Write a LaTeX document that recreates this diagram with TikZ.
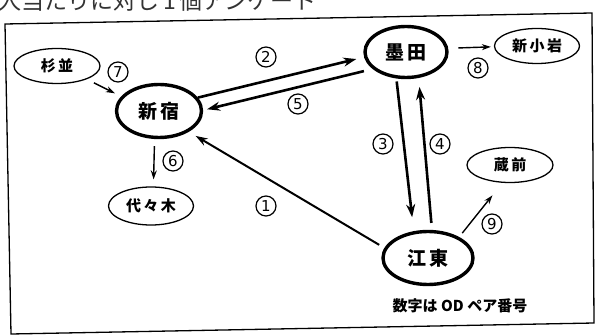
\documentclass[tikz,border=0pt]{standalone}
\usepackage{fontspec}
\setmainfont{Noto Sans CJK JP}
\newfontfamily\numfont{DejaVu Sans}
\usetikzlibrary{arrows.meta,shapes.geometric}
\tikzset{
  station/.style={ellipse,draw,line width=1.3pt,inner sep=0pt,font=\fontsize{15}{15}\selectfont\bfseries},
  hub/.style={ellipse,draw,line width=3.4pt,inner sep=0pt,font=\fontsize{19}{19}\selectfont\bfseries},
  heavy/.style={line width=2.6pt,-{Stealth[length=13pt,width=9pt]}},
  medium/.style={line width=2pt,-{Stealth[length=12pt,width=8pt]}},
  light/.style={line width=1.4pt,-{Stealth[length=9pt,width=6pt]}},
  num/.style={circle,draw,line width=1.2pt,minimum size=20pt,inner sep=0pt,font=\numfont\fontsize{15}{15}\selectfont},
}
\begin{document}
\begin{tikzpicture}[x=1pt,y=-1pt]
\useasboundingbox (0,0) rectangle (601,336);
\node[anchor=base west,inner sep=0pt,font=\fontsize{23}{23}\selectfont,text=black!80] (top) at (-2,10) {人当たりに対し\,1\,個アンケート};
\draw[line width=1.3pt] (5,24) -- (592,13) -- (594,323) -- (11,334) -- cycle;
% nodes
\node[station,minimum width=86pt,minimum height=35pt] (sug) at (57,66) {杉\,並};
\node[hub,minimum width=85pt,minimum height=53pt] (shj) at (159,111) {新\,宿};
\node[station,minimum width=85pt,minimum height=38pt] (yoy) at (151,206) {代\,々\,木};
\node[hub,minimum width=82pt,minimum height=51pt] (sum) at (406,52) {墨\,田};
\node[station,minimum width=85pt,minimum height=35pt] (sko) at (537,46) {新\,小\,岩};
\node[station,minimum width=86pt,minimum height=35pt] (kur) at (510,165) {蔵\,前};
\node[hub,minimum width=90pt,minimum height=53pt] (kot) at (428,258) {江\,東};
\node[font=\fontsize{15}{15}\selectfont\bfseries,inner sep=0pt] (cap) at (460,306) {数字は OD ペア番号};
% connectors
\draw[heavy,shorten >=8pt] (shj.19) -- (sum.187);
\draw[heavy,shorten <=9pt,shorten >=4pt] (sum.207) -- (shj.1);
\draw[heavy,shorten <=3pt,shorten >=14pt] (sum.250) -- (kot.118);
\draw[heavy,shorten <=7pt,shorten >=9pt] (kot.82) -- (sum.296);
\draw[medium,shorten <=6pt,shorten >=8pt] (kot.167) -- (shj.325);
\draw[light,shorten <=7pt,shorten >=7pt] (shj.261) -- (yoy.83);
\draw[light,shorten <=8pt,shorten >=7pt] (sug.336) -- (shj.159);
\draw[light,shorten <=10pt,shorten >=3pt] (sum.5) -- (sko.181);
\draw[light,shorten <=5pt,shorten >=16pt] (kot.34) -- (kur.247);
% labels
\node[num] (n1) at (266,206) {1};
\node[num] (n2) at (266,57) {2};
\node[num] (n3) at (383,144) {3};
\node[num] (n4) at (440,144) {4};
\node[num] (n5) at (298,104) {5};
\node[num] (n6) at (173,161) {6};
\node[num] (n7) at (118,72) {7};
\node[num] (n8) at (478,68) {8};
\node[num] (n9) at (492,224) {9};
\end{tikzpicture}
\end{document}
